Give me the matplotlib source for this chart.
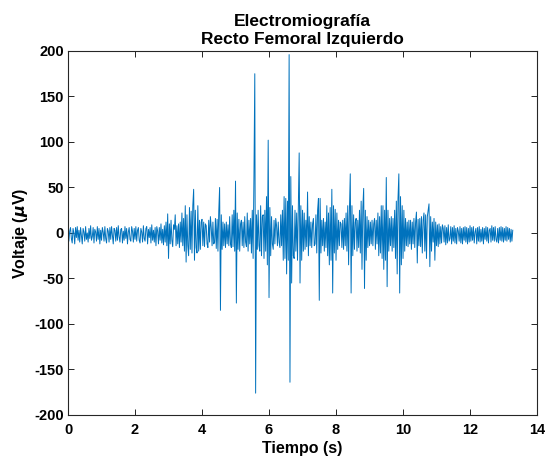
import numpy as np
import matplotlib
matplotlib.use('Agg')
import matplotlib.pyplot as plt

# EMG samples (uV), one every 0.025 s, one row per second
sample_dt = 0.025
emg_uv = [
    4, -9, 2, 6, -6, -11, 5, 0, -12, 6, -5, 7, -8, 3, -10, 6, -3, -12, 5, 1,
    -9, 7, -7, 0, -10, 5, -6, 8, -8, -4, 6, -11, 4, 1, -9, 7, -7, 5, -12, 3,
    -8, 6, 1, -9, 7, -6, -11, 5, 2, -10, 6, -7, 7, -3, -12, 5, 3, -9, 6, -8,
    8, -4, -10, 4, 5, -11, 2, -8, 7, -6, 5, -12, 1, 6, -7, -9, 7, 2, -10, 5,
    -7, 7, -9, 3, 6, -8, -11, 5, 1, -10, 8, -6, -9, 5, 7, -12, 4, -5, 6, -11,
    9, -8, 3, -10, 6, -14, 7, 2, -12, 6, -8, 10, -11, 4, -13, 8, -10, 12, -14, 21,
    -28, 10, -12, 14, -8, -15, 9, 4, 20, -14, 8, -12, 10, -16, 12, -10, 22, -14, 16, -20,
    30, -32, 20, -14, -25, 28, -18, 24, -22, 30, 48, -30, 25, -16, -22, 30, -20, 14, -18, 12,
    15, -14, 12, -15, 10, 8, -12, -16, 14, -10, 18, 6, -14, 12, -12, -10, 16, -17, 15, -20,
    24, 50, -85, 20, -18, 12, -14, 10, -16, 12, -12, 9, -14, 18, -12, -16, 20, -15, 25, -20,
    57, -77, 22, -18, 15, -20, 10, 14, -14, 12, -16, 18, -10, -15, 22, -20, 14, -12, 16, -22,
    25, -28, 62, 175, -176, 20, -18, 25, -14, -20, 30, -25, 18, 20, -28, 25, -20, 40, -35, 102,
    -71, 28, -25, 18, -12, -18, 14, -12, 16, 8, -14, 12, -10, -16, 20, -14, 25, -30, 40, -28,
    38, -45, 35, -30, 196, -164, 62, -55, 30, -25, -28, 25, -20, 22, -30, 28, 88, -55, 30, -30,
    25, -20, 22, -18, 14, -15, 45, -25, 18, -14, 12, -16, 10, 16, -14, -12, 20, -22, 25, 38,
    -74, 38, -22, 14, -14, 16, -20, 12, -16, 30, -25, 22, -35, 28, -30, 48, -66, 30, -22, 26,
    -30, 22, -18, 14, -14, 12, 10, -16, 14, -18, 16, -14, 22, -20, 30, -35, 25, 65, -66, 30,
    -25, 20, -18, 12, 16, -20, 14, -16, 25, -22, 35, -40, 28, 49, -61, 25, -30, 18, -16, 14,
    -14, 12, -12, 14, -14, 10, 16, -18, 14, -12, 22, -25, 18, -22, 30, -28, 30, -40, 25, -30,
    61, -59, 25, -20, 16, -14, 18, -20, 16, -16, 25, -28, 35, -45, 38, 65, -66, 40, -35, 30,
    -28, 25, -20, 16, -14, 12, -15, 14, -12, 14, -18, 12, -12, 16, -16, 12, 23, -33, 15, -14,
    16, -15, 18, -22, 14, 22, -20, 20, -28, 18, 25, 32, -37, 18, -20, 12, -10, 16, -30, 12,
    -14, 9, -15, 10, -12, 7, -11, 9, 5, -10, 8, -13, 6, -11, 9, -9, -6, 7, -12, 6,
    -9, 8, -11, 5, -12, 6, 2, -9, 7, -11, 5, -12, 6, -8, 7, -10, 6, -12, 5, -10,
    8, -9, 6, -8, 7, -11, 1, 5, -12, 6, -9, 7, -10, 4, -9, 6, -12, 5, -7, 7,
    -9, 6, -11, 3, 5, -10, 8, -8, 6, -9, 7, -7, -10, 5, -11, 6, -8, 7, -9, 6,
    -10, 5, -8, 7, -9, 6, -7, 5, -10, 4, -9, 3,
]
tiempo = np.arange(len(emg_uv)) * sample_dt

plt.rcParams['font.family'] = ['Liberation Sans', 'DejaVu Sans']
plt.rcParams['font.weight'] = 'bold'
plt.rcParams['mathtext.default'] = 'it'
plt.rcParams['axes.unicode_minus'] = False

fig = plt.figure(figsize=(5.45, 4.58), dpi=100)
ax = fig.add_axes([0.1248, 0.0939, 0.8606, 0.7948])

ax.plot(tiempo, emg_uv, color='#0072BD', linewidth=0.7)

ax.set_xlim(0, 14)
ax.set_ylim(-200, 200)
ax.set_xticks(np.arange(0, 15, 2))
ax.set_yticks(np.arange(-200, 201, 50))
ax.tick_params(direction='in', top=True, right=True, length=4, width=0.6,
               labelsize=10.5, pad=3)
ax.tick_params(axis='x', pad=6)
for lbl in ax.get_xticklabels() + ax.get_yticklabels():
    lbl.set_fontweight('bold')
for sp in ax.spines.values():
    sp.set_linewidth(0.8)
    sp.set_color('#262626')

ax.set_xlabel('Tiempo (s)', fontsize=11.5, fontweight='bold', labelpad=3)
ax.set_ylabel(r'Voltaje ($\mu$V)', fontsize=11.5, fontweight='bold', labelpad=3)
ax.set_title('Electromiografía\nRecto Femoral Izquierdo', fontsize=12.5,
             fontweight='bold', pad=5, linespacing=1.25)

fig.savefig('out.png', dpi=100)
